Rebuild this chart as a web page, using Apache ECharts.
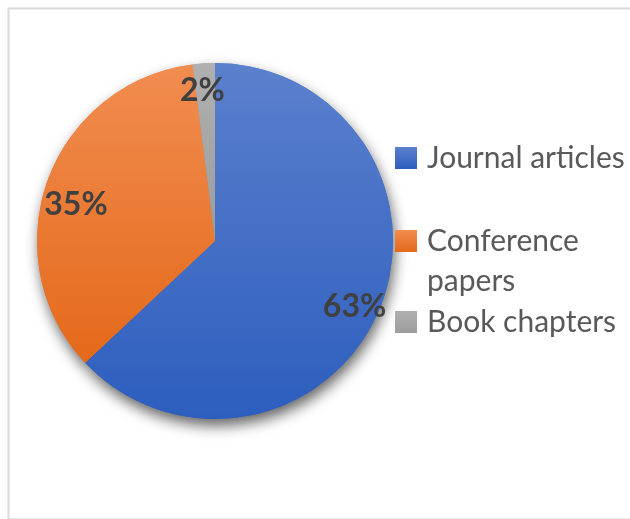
<!DOCTYPE html>
<html>
<head>
<meta charset="utf-8">
<script src="https://cdn.jsdelivr.net/npm/echarts@6/dist/echarts.min.js"></script>
<style>
  html, body { margin: 0; padding: 0; background: #ffffff; }
  #chart { width: 630px; height: 519px; }
</style>
</head>
<body>
<div id="chart"></div>
<script>
// Publication types (share of total, %)
const categories = ['Journal articles', 'Conference papers', 'Book chapters'];
const shares = [63, 35, 2];
// legend wording; the leading blank line keeps "Conference" level with its swatch
const legendLabels = ['Journal articles', '\nConference\npapers', 'Book chapters'];

// vertical gradients, lighter at the top
const fills = [
  ['#5b80cd', '#2d5ebe'],
  ['#f18d50', '#e4691a'],
  ['#b0b0b0', '#9c9c9c']
];
// small nudges for the percentage labels
const labelNudge = [[0, 5], [4, 15], [-3, 1]];

const grad = (c) => new echarts.graphic.LinearGradient(0, 0, 0, 1, [
  { offset: 0, color: c[0] }, { offset: 1, color: c[1] }
]);

const pieData = categories.map((name, i) => ({
  name, value: shares[i], itemStyle: { color: grad(fills[i]) }
}));

const center = [215, 241];
const R = 178;
const legendTextStyle = {
  color: '#595959', fontSize: 30, fontFamily: 'Lato', lineHeight: 40, padding: [0, 0, 0, 5]
};

const legendOf = (i, top) => ({
  orient: 'vertical', left: 395, top: top, padding: 0,
  itemWidth: 22, itemHeight: 22, icon: 'rect', itemGap: 0,
  selectedMode: false,
  data: [categories[i]],
  formatter: () => legendLabels[i],
  textStyle: legendTextStyle
});

const chart = echarts.init(document.getElementById('chart'), null, { renderer: 'canvas' });
chart.setOption({
  animation: false,
  backgroundColor: '#ffffff',
  graphic: [{
    type: 'rect', left: 6, top: 6, z: -10,
    shape: { width: 640, height: 511 },
    style: { fill: 'none', stroke: '#d9d9d9', lineWidth: 2 }
  }],
  legend: [
    legendOf(0, 138),
    legendOf(1, 181),
    legendOf(2, 302)
  ],
  series: [
    { // shaded disc underneath
      type: 'pie', center, radius: [0, R], startAngle: 90, z: 1,
      silent: true, label: { show: false }, labelLine: { show: false },
      itemStyle: { shadowBlur: 14, shadowOffsetX: 2, shadowOffsetY: 7, shadowColor: 'rgba(0,0,0,0.6)' },
      data: pieData
    },
    { // slices
      type: 'pie', center, radius: [0, R], startAngle: 90, z: 2,
      silent: true, label: { show: false }, labelLine: { show: false },
      data: pieData
    },
    { // percentage labels, placed near the rim
      type: 'pie', center, radius: [120, R], startAngle: 90, z: 3,
      silent: true, labelLine: { show: false },
      itemStyle: { color: 'rgba(0,0,0,0)' },
      label: {
        show: true, position: 'inside', formatter: '{c}%',
        color: '#404040', fontSize: 32, fontWeight: 'bold', fontFamily: 'Lato'
      },
      data: categories.map((name, i) => ({
        name, value: shares[i], label: { offset: labelNudge[i] }
      }))
    }
  ]
});
</script>
</body>
</html>
